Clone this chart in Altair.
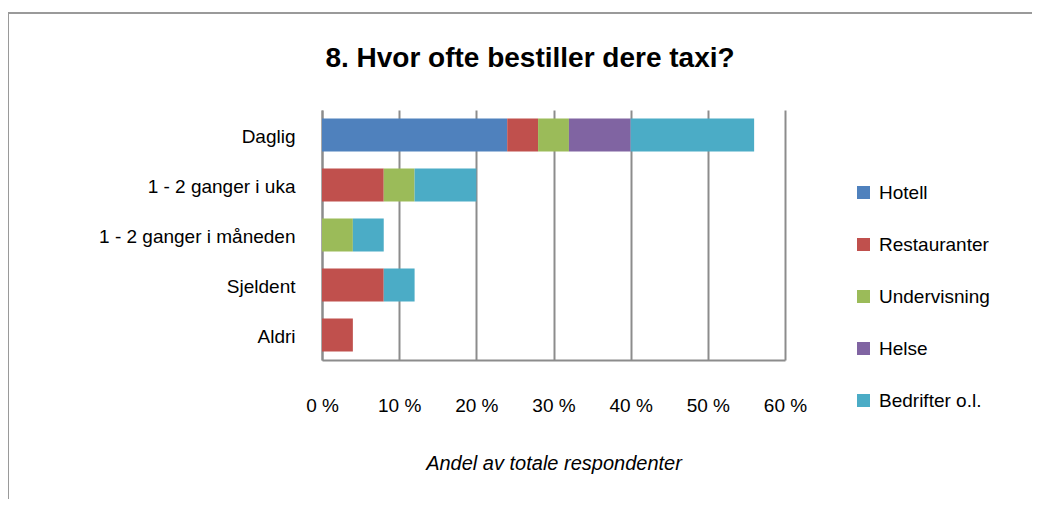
import altair as alt
import pandas as pd

categories = ["Daglig", "1 - 2 ganger i uka", "1 - 2 ganger i måneden", "Sjeldent", "Aldri"]
series = ["Hotell", "Restauranter", "Undervisning", "Helse", "Bedrifter o.l."]
colors = ["#4F81BD", "#C0504D", "#9BBB59", "#8064A2", "#4BACC6"]

hotell = [0.24, 0.00, 0.00, 0.00, 0.00]
restauranter = [0.04, 0.08, 0.00, 0.08, 0.04]
undervisning = [0.04, 0.04, 0.04, 0.00, 0.00]
helse = [0.08, 0.00, 0.00, 0.00, 0.00]
bedrifter = [0.16, 0.08, 0.04, 0.04, 0.00]

x_ticks = [0, 0.1, 0.2, 0.3, 0.4, 0.5, 0.6]
title_text = ["8. Hvor ofte bestiller dere taxi?"]

rows = []
for si, (name, vals) in enumerate(zip(series, [hotell, restauranter, undervisning, helse, bedrifter])):
    for cat, v in zip(categories, vals):
        if v > 0:
            rows.append({"Kategori": cat, "Serie": name, "Andel": v, "ord": si})
df = pd.DataFrame(rows)

FONT = "Liberation Sans"

bars = alt.Chart(df).mark_bar(size=33).encode(
    y=alt.Y("Kategori:N", sort=categories,
            axis=alt.Axis(title=None, ticks=False, labelPadding=27, labelFontSize=19,
                          labelFont=FONT, labelColor="#000000", domainColor="#8c8c8c",
                          domainWidth=2, labelLimit=400, labelOffset=2)),
    x=alt.X("Andel:Q", scale=alt.Scale(domain=[0, 0.6]), stack="zero",
            axis=alt.Axis(values=x_ticks, labelExpr="round(datum.value*100) + ' %'",
                          title="Andel av totale respondenter", titleFont=FONT,
                          titleFontSize=20, titleFontStyle="italic", titleFontWeight="normal",
                          titlePadding=38, labelFont=FONT, labelFontSize=19,
                          labelColor="#000000", labelPadding=36, ticks=False,
                          labelFlush=False, labelOverlap=False,
                          grid=True, gridColor="#8c8c8c", gridWidth=2,
                          domainColor="#8c8c8c", domainWidth=2, titleColor="#000000")),
    color=alt.Color("Serie:N", scale=alt.Scale(domain=series, range=colors),
                    legend=alt.Legend(title=None, orient="none", legendX=532, legendY=73,
                                      symbolType="square", symbolSize=169, symbolStrokeWidth=0,
                                      labelFont=FONT, labelFontSize=19, labelColor="#000000",
                                      rowPadding=32, labelOffset=6)),
    order=alt.Order("ord:Q"),
)

title_df = pd.DataFrame({"t": title_text})
title = alt.Chart(title_df).mark_text(font=FONT, fontSize=28, fontWeight="bold",
                                      color="#000000", align="center", baseline="alphabetic").encode(
    text="t:N", x=alt.value(208), y=alt.value(-43))

border_df = pd.DataFrame({"k": [0]})
top_border = alt.Chart(border_df).mark_rule(color="#9a9a9a", strokeWidth=2).encode(
    x=alt.value(-314), x2=alt.value(720), y=alt.value(-97))
left_border = alt.Chart(border_df).mark_rule(color="#9a9a9a", strokeWidth=2).encode(
    x=alt.value(-314), y=alt.value(-97), y2=alt.value(400))

chart = alt.layer(bars, title, top_border, left_border).properties(
    width=463, height=250,
    autosize=alt.AutoSizeParams(type="none"),
    padding={"left": 314, "top": 102, "right": 247, "bottom": 139},
).configure_view(stroke=None).configure_axisY(grid=False)

chart.save("out.html", embed_options={"renderer": "svg", "actions": False})
